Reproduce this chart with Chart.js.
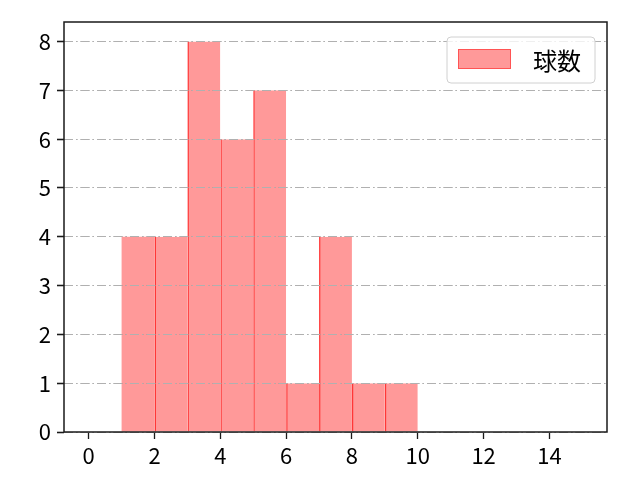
<!DOCTYPE html>
<html>
<head>
<meta charset="utf-8">
<script src="https://cdn.jsdelivr.net/npm/chart.js@4"></script>
<style>
    html, body { margin: 0; padding: 0; background: #fff; }
    #wrap { width: 640px; height: 480px; position: relative; }
</style>
</head>
<body>
<div id="wrap"><canvas id="histChart"></canvas></div>
<script>
// Histogram bins (left edges) and counts
const binEdges = [1, 2, 3, 4, 5, 6, 7, 8, 9];
const counts = [4, 4, 8, 6, 7, 1, 4, 1, 1];
const xTicks = [0, 2, 4, 6, 8, 10, 12, 14];
const yTicks = [0, 1, 2, 3, 4, 5, 6, 7, 8];
const seriesLabel = '球数';

const FONT = '"Noto Sans CJK JP", "Noto Sans", sans-serif';

// Grid on top of the bars, frame around plot area, legend box upper right
const framePlugin = {
    id: 'frame',
    afterDatasetsDraw(chart) {
        // matplotlib draws the grid over the bars here
        chart.scales.y.drawGrid(chart.chartArea);
    },
    afterDraw(chart) {
        const { ctx, chartArea: a } = chart;
        ctx.save();
        ctx.setLineDash([]);
        ctx.strokeStyle = '#1a1a1a';
        ctx.lineWidth = 1.5;
        ctx.strokeRect(a.left, a.top, a.right - a.left, a.bottom - a.top);

        // legend
        const w = 148, h = 46;
        const x = a.right - 12 - w, y = a.top + 15;
        ctx.beginPath();
        ctx.roundRect(x, y, w, h, 4);
        ctx.fillStyle = 'rgba(255,255,255,0.8)';
        ctx.fill();
        ctx.strokeStyle = '#d0d0d0';
        ctx.lineWidth = 1;
        ctx.stroke();

        ctx.fillStyle = 'rgba(255,0,0,0.4)';
        ctx.fillRect(x + 11, y + 12, 53, 20);
        ctx.strokeStyle = 'rgba(255,0,0,0.45)';
        ctx.strokeRect(x + 11.5, y + 12.5, 52, 19);

        ctx.fillStyle = '#000';
        ctx.font = '24px ' + FONT;
        ctx.textBaseline = 'middle';
        ctx.fillText(seriesLabel, x + 86, y + h / 2 + 1);
        ctx.restore();
    }
};

const ctx = document.getElementById('histChart').getContext('2d');
new Chart(ctx, {
    type: 'bar',
    data: {
        datasets: [{
            label: seriesLabel,
            data: binEdges.map((e, i) => ({ x: e + 0.5, y: counts[i] })),
            backgroundColor: 'rgba(255, 0, 0, 0.4)',
            borderColor: 'rgba(255, 20, 20, 0.85)',
            borderWidth: c => ({ left: c.dataIndex > 0 ? 1.5 : 0, right: 0, top: 0, bottom: 0 }),
            borderSkipped: false,
            inflateAmount: 0,
            barPercentage: 1.0,
            categoryPercentage: 1.0
        }]
    },
    options: {
        responsive: true,
        maintainAspectRatio: false,
        devicePixelRatio: 1,
        animation: false,
        layout: {
            padding: { left: 0, right: 33, top: 22, bottom: 0 }
        },
        scales: {
            x: {
                type: 'linear',
                offset: false,
                min: -0.75,
                max: 15.75,
                afterBuildTicks: scale => {
                    scale.ticks = xTicks.map(v => ({ value: v }));
                },
                afterFit: scale => { scale.height = 48; },
                ticks: {
                    color: '#000',
                    padding: 3,
                    font: { family: FONT, size: 22 }
                },
                grid: {
                    offset: false,
                    drawOnChartArea: false,
                    drawTicks: true,
                    tickLength: 7,
                    tickWidth: 1.3,
                    tickColor: '#1a1a1a'
                },
                border: { display: false }
            },
            y: {
                min: 0,
                max: 8.4,
                afterBuildTicks: scale => {
                    scale.ticks = yTicks.map(v => ({ value: v }));
                },
                afterFit: scale => { scale.width = 64; },
                ticks: {
                    color: '#000',
                    padding: 6,
                    font: { family: FONT, size: 22 }
                },
                grid: {
                    color: '#b0b0b0',
                    lineWidth: 1,
                    drawTicks: true,
                    tickLength: 7,
                    tickWidth: 1.3,
                    tickColor: '#1a1a1a',
                    tickBorderDash: []
                },
                border: { display: false, dash: [9, 3, 1.5, 3] }
            }
        },
        plugins: {
            legend: { display: false },
            tooltip: { enabled: false }
        }
    },
    plugins: [framePlugin]
});
</script>
</body>
</html>
